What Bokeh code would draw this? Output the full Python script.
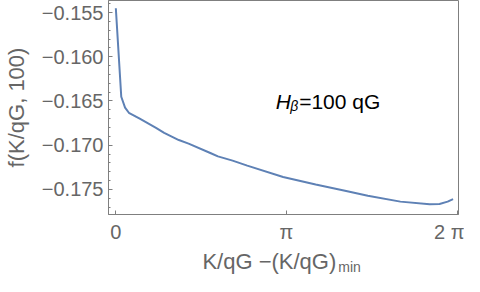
import math
from bokeh.plotting import figure
from bokeh.layouts import column
from bokeh.models import FixedTicker, Range1d, Label
from bokeh.core.properties import value
from bokeh.embed import file_html
from bokeh.resources import INLINE

# ---- data ----
k_vals = [0.00, 0.10, 0.17, 0.24, 0.44, 0.74, 0.89, 1.16, 1.34, 1.75, 1.88,
          2.15, 2.42, 3.08, 3.68, 4.22, 4.64, 5.24, 5.78, 5.96, 6.11, 6.21]
f_vals = [-0.15452, -0.16452, -0.16574, -0.16633, -0.16700, -0.16803, -0.16860,
          -0.16941, -0.16981, -0.17090, -0.17126, -0.17174, -0.17230, -0.17359,
          -0.17444, -0.17514, -0.17570, -0.17637, -0.17667, -0.17663, -0.17637,
          -0.17608]

x_ticks = [0.0, math.pi, 2 * math.pi]
x_tick_labels = ["0", "π", "2 π"]
y_ticks = [-0.175, -0.170, -0.165, -0.160, -0.155]
y_tick_labels = ["−0.175", "−0.170", "−0.165", "−0.160", "−0.155"]
y_minor = [-0.177, -0.176, -0.174, -0.173, -0.172, -0.171, -0.169, -0.168,
           -0.167, -0.166, -0.164, -0.163, -0.162, -0.161, -0.159, -0.158,
           -0.157, -0.156, -0.154]

y_title = "f(K/qG, 100)"
x_title = "K/qG −(K/qG)"
x_title_sub = "min"
note_main = "H"
note_sub = "β"
note_rest = "=100 qG"

# ---- layout ----
W = 464
H1 = 246          # main chart
H2 = 30           # caption strip holding the x title
BL, BR, BT, BB = 100, 6, 0, 32
XS, XE = -0.135, 6.310
YS, YE = -0.177825, -0.153644
OFFX, OFFY = 8, 8   # page margin

AX = "#7f7f7f"
TXT = "#666666"
LINE = "#5e81b5"
FONT = "Liberation Sans"

p = figure(width=W, height=H1, output_backend="svg", toolbar_location=None,
           x_range=Range1d(XS, XE), y_range=Range1d(YS, YE),
           min_border_left=BL, min_border_right=BR,
           min_border_top=BT, min_border_bottom=BB)
p.grid.visible = False
p.outline_line_color = AX
p.outline_line_width = 1
p.background_fill_color = "white"
p.border_fill_color = "white"

p.line(k_vals, f_vals, line_color=LINE, line_width=2)

for ax in (p.xaxis[0], p.yaxis[0]):
    ax.axis_line_color = AX
    ax.major_tick_line_color = AX
    ax.minor_tick_line_color = AX
    ax.major_tick_in = 4
    ax.major_tick_out = 0
    ax.minor_tick_in = 2
    ax.minor_tick_out = 0
    ax.major_label_text_color = TXT
    ax.major_label_text_font = FONT
    ax.major_label_text_font_size = "20px"
    ax.axis_label_text_font = FONT
    ax.axis_label_text_color = TXT
    ax.axis_label_text_font_style = "normal"

p.xaxis[0].ticker = FixedTicker(ticks=x_ticks)
p.xaxis[0].major_label_overrides = dict(zip(x_ticks, x_tick_labels))
p.xaxis[0].major_label_standoff = 6

p.yaxis[0].ticker = FixedTicker(ticks=y_ticks, minor_ticks=y_minor)
p.yaxis[0].major_label_overrides = dict(zip(y_ticks, y_tick_labels))
p.yaxis[0].major_label_standoff = 5
p.yaxis[0].axis_label = y_title
p.yaxis[0].axis_label_text_font_size = "22px"
p.yaxis[0].axis_label_standoff = 10


def sx(px):
    # screenshot x pixel -> data x (shared by both figures)
    return XS + (px - OFFX - BL) / (W - BL - BR) * (XE - XS)


def sy(py):
    # screenshot y pixel -> data y of main chart
    return YE - (py - OFFY - BT) / (H1 - BT - BB) * (YE - YS)


def lab(text, px, py, size, style="normal"):
    p.add_layout(Label(x=sx(px), y=sy(py), text=text, text_align="left",
                       text_baseline="alphabetic", text_font=FONT,
                       text_font_size=size, text_font_style=style,
                       text_color="black"))


lab(note_main, 279, 109, "21px", style="italic")
lab(note_sub, 294, 113, "14px", style="italic")
lab(note_rest, 303, 109, "21px")

# ---- caption strip with the x-axis title ----
cap = figure(width=W, height=H2, output_backend="svg", toolbar_location=None,
             x_range=Range1d(XS, XE), y_range=Range1d(0, H2),
             min_border=0, min_border_left=BL, min_border_right=BR,
             min_border_top=0, min_border_bottom=0,
             x_axis_location=None, y_axis_location=None)
cap.grid.visible = False
cap.outline_line_color = None
cap.background_fill_color = "white"
cap.border_fill_color = "white"

# vertical centres of the two text pieces, measured up from the strip bottom
cap.text(x=[sx(341)], y=[15], text=[x_title],
         text_align="right", text_baseline="middle",
         text_font=value(FONT), text_font_size="22px", text_color=TXT)
cap.text(x=[sx(343)], y=[10], text=[x_title_sub],
         text_align="left", text_baseline="middle",
         text_font=value(FONT), text_font_size="14px", text_color=TXT)

layout = column(p, cap, spacing=0)
open("out.html", "w").write(file_html(layout, INLINE))
